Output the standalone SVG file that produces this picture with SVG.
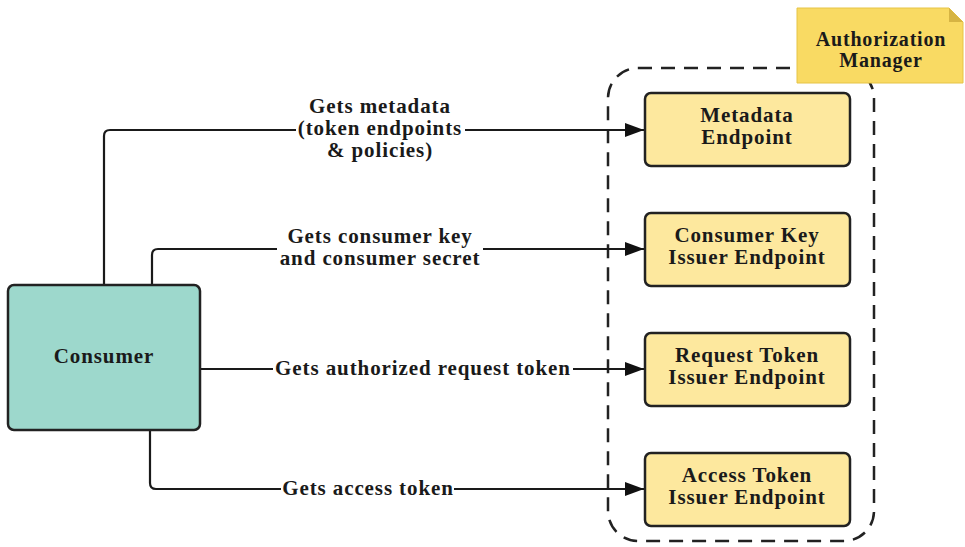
<svg xmlns="http://www.w3.org/2000/svg" width="965" height="547" viewBox="0 0 965 547">
<defs>
<marker id="arr" viewBox="0 0 19 14" refX="19" refY="7" markerWidth="19" markerHeight="14" markerUnits="userSpaceOnUse" orient="auto">
<path d="M0,0 L19,7 L0,14 Z" fill="#111"/>
</marker>
<style>
.t{font-family:"Liberation Serif","Times New Roman",serif;font-weight:bold;font-size:21px;letter-spacing:0.9px;fill:#1a1a1a;text-anchor:middle}
.nt{font-size:20px;letter-spacing:0.8px}
.ep{fill:#FDE89E;stroke:#222;stroke-width:2.5}
.cn{fill:none;stroke:#1a1a1a;stroke-width:2.2}
.bg{fill:#fff}
</style>
</defs>
<rect width="965" height="547" fill="#fff"/>
<g id="container">
<rect x="608" y="68" width="266" height="473" rx="30" fill="none" stroke="#222" stroke-width="2.5" stroke-dasharray="14 9"/>
</g>
<g id="connectors">
<path class="cn" d="M104,285 V136 Q104,130 110,130 H644" marker-end="url(#arr)"/>
<path class="cn" d="M152,285 V255 Q152,249 158,249 H644" marker-end="url(#arr)"/>
<path class="cn" d="M200,369 H644" marker-end="url(#arr)"/>
<path class="cn" d="M150,430 V483 Q150,489 156,489 H644" marker-end="url(#arr)"/>
<rect class="bg" x="297" y="94" width="167" height="27"/>
<rect class="bg" x="296" y="121" width="169" height="40"/>
<rect class="bg" x="277" y="226" width="206" height="46"/>
<rect class="bg" x="273" y="356" width="300" height="26"/>
<rect class="bg" x="281" y="476" width="173" height="26"/>
<text class="t" x="380" y="113">Gets metadata</text>
<text class="t" x="380" y="135">(token endpoints</text>
<text class="t" x="380" y="157">&amp; policies)</text>
<text class="t" x="380" y="243">Gets consumer key</text>
<text class="t" x="380" y="265">and consumer secret</text>
<text class="t" x="423" y="375">Gets authorized request token</text>
<text class="t" x="368" y="495">Gets access token</text>
</g>
<g id="consumer">
<rect x="8" y="285" width="192" height="145" rx="6" fill="#9DD8CC" stroke="#222" stroke-width="2.5"/>
<text class="t" x="104" y="363">Consumer</text>
</g>
<g id="metadata-endpoint">
<rect class="ep" x="645" y="93" width="205" height="73" rx="6"/>
<text class="t" x="747" y="122">Metadata</text>
<text class="t" x="747" y="144">Endpoint</text>
</g>
<g id="consumer-key-endpoint">
<rect class="ep" x="645" y="213" width="205" height="73" rx="6"/>
<text class="t" x="747" y="242">Consumer Key</text>
<text class="t" x="747" y="264">Issuer Endpoint</text>
</g>
<g id="request-token-endpoint">
<rect class="ep" x="645" y="333" width="205" height="73" rx="6"/>
<text class="t" x="747" y="362">Request Token</text>
<text class="t" x="747" y="384">Issuer Endpoint</text>
</g>
<g id="access-token-endpoint">
<rect class="ep" x="645" y="453" width="205" height="73" rx="6"/>
<text class="t" x="747" y="482">Access Token</text>
<text class="t" x="747" y="504">Issuer Endpoint</text>
</g>
<g id="authorization-manager">
<path d="M797,8 H949 L963,22 V83 H797 Z" fill="#F9DA63" stroke="#E6C447" stroke-width="1"/>
<path d="M949,8 V22 H963 Z" fill="#D6B443"/>
<text class="t nt" x="881" y="46">Authorization</text>
<text class="t nt" x="881" y="67">Manager</text>
</g>
</svg>
